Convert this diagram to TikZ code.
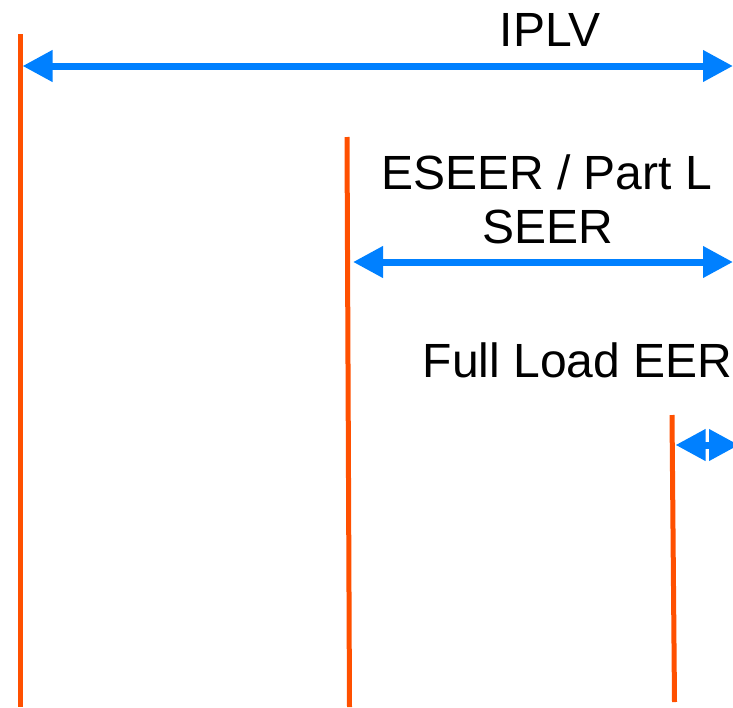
\documentclass[tikz,border=0pt]{standalone}
\usepackage{fontspec}
\setmainfont{Liberation Sans}
\usetikzlibrary{arrows.meta}
\definecolor{barorange}{RGB}{255,80,0}
\definecolor{spanblue}{RGB}{0,128,255}
\tikzset{
  bar/.style={draw=barorange, line width=5pt},
  span/.style={draw=spanblue, line width=7pt,
    {Triangle[length=30pt,width=30pt]}-{Triangle[length=30pt,width=30pt]}},
  caption/.style={font=\fontsize{48}{54}\selectfont, inner sep=0pt, align=center}
}
\begin{document}
\begin{tikzpicture}[x=1pt,y=-1pt]
\useasboundingbox (0,0) rectangle (733,707);

% vertical markers
\coordinate (a1) at (20,34);    \coordinate (a2) at (20,707);
\coordinate (b1) at (347,137);  \coordinate (b2) at (349.5,707);
\coordinate (c1) at (672,415);  \coordinate (c2) at (674.5,702);
\draw[bar] (a1) -- (a2);
\draw[bar] (b1) -- (b2);
\draw[bar] (c1) -- (c2);

% span ends
\coordinate (ia) at (22.5,66);   \coordinate (ib) at (733,66);
\coordinate (ea) at (353,262);   \coordinate (eb) at (733,262);
\coordinate (fa) at (675.5,445); \coordinate (fb) at (739,445);
\draw[span] (ia) -- (ib);
\draw[span] (ea) -- (eb);
\draw[span] (fa) -- (fb);

% labels
\node[caption, anchor=base] (iplv) at (550,46) {IPLV};
\node[caption, anchor=base] (eseer) at (546.5,189) {ESEER / Part L};
\node[caption, anchor=base] (seer) at (547.5,243) {SEER};
\node[caption, anchor=base east] (eer) at (732.5,377) {Full Load EER};
\end{tikzpicture}
\end{document}
